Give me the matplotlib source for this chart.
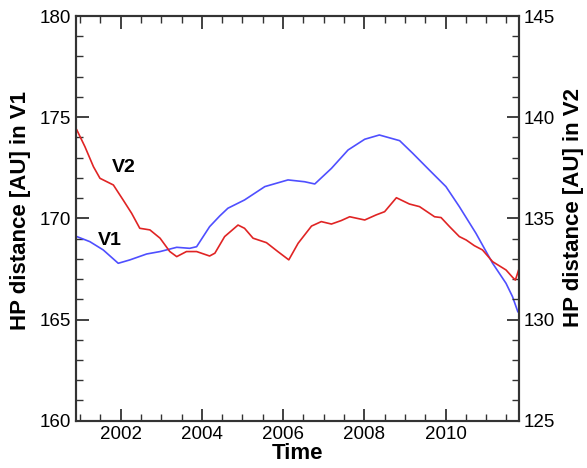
import numpy as np
import matplotlib.pyplot as plt
from matplotlib.ticker import MultipleLocator

plt.rcParams['font.family'] = ['Liberation Sans', 'DejaVu Sans']

# V1 heliopause distance (left axis)
v1_t = [2000.92, 2001.24, 2001.57, 2001.94, 2002.23, 2002.64, 2002.97, 2003.38, 2003.70, 2003.87,
        2004.19, 2004.44, 2004.64, 2005.05, 2005.55, 2006.12, 2006.53, 2006.78, 2007.19, 2007.60,
        2008.01, 2008.37, 2008.87, 2009.19, 2009.60, 2010.01, 2010.34, 2010.75, 2011.16, 2011.49,
        2011.65, 2011.78]
v1_d = [169.1, 168.85, 168.44, 167.78, 167.95, 168.24, 168.36, 168.57, 168.52, 168.6,
        169.59, 170.12, 170.5, 170.91, 171.57, 171.9, 171.81, 171.7, 172.47, 173.38,
        173.91, 174.12, 173.84, 173.22, 172.39, 171.57, 170.58, 169.26, 167.78, 166.79,
        166.13, 165.39]

# V2 heliopause distance (right axis)
v2_t = [2000.92, 2001.12, 2001.33, 2001.49, 2001.82, 2002.06, 2002.27, 2002.47, 2002.72, 2002.97,
        2003.21, 2003.38, 2003.62, 2003.87, 2004.19, 2004.32, 2004.56, 2004.89, 2005.05, 2005.26,
        2005.59, 2005.87, 2006.14, 2006.37, 2006.70, 2006.94, 2007.19, 2007.43, 2007.64, 2008.01,
        2008.29, 2008.50, 2008.79, 2009.11, 2009.36, 2009.73, 2009.89, 2010.10, 2010.34, 2010.51,
        2010.71, 2010.91, 2011.16, 2011.49, 2011.65, 2011.72, 2011.80]
v2_d = [139.37, 138.54, 137.55, 136.98, 136.65, 135.91, 135.25, 134.51, 134.43, 134.02,
        133.36, 133.11, 133.36, 133.36, 133.14, 133.28, 134.1, 134.67, 134.51, 134.02,
        133.8, 133.36, 132.95, 133.77, 134.62, 134.84, 134.72, 134.89, 135.08, 134.92,
        135.17, 135.33, 136.02, 135.71, 135.58, 135.08, 135.04, 134.59, 134.1, 133.93,
        133.65, 133.44, 132.86, 132.45, 132.09, 131.95, 132.45]

fig = plt.figure(figsize=(5.87, 4.68), dpi=100)
ax = fig.add_axes([0.1295, 0.101, 0.754, 0.8648])
ax2 = ax.twinx()

ax.plot(v1_t, v1_d, c='#4f4fff', lw=1.2)
ax2.plot(v2_t, v2_d, c='#e02424', lw=1.2)

ax.set_xlim(2000.9, 2011.8)
ax.set_ylim(160, 180)
ax2.set_ylim(125, 145)

ax.xaxis.set_major_locator(MultipleLocator(2))
ax.xaxis.set_minor_locator(MultipleLocator(0.5))
ax.yaxis.set_major_locator(MultipleLocator(5))
ax.yaxis.set_minor_locator(MultipleLocator(1))
ax2.yaxis.set_major_locator(MultipleLocator(5))
ax2.yaxis.set_minor_locator(MultipleLocator(1))

ax.tick_params(which='both', direction='in', top=True, right=False, labelsize=13.5, color='#333333')
ax.tick_params(which='major', length=9, width=1.3)
ax.tick_params(which='minor', length=5, width=1)
ax2.tick_params(which='both', direction='in', labelsize=13.5, color='#333333')
ax2.tick_params(which='major', length=9, width=1.3)
ax2.tick_params(which='minor', length=5, width=1)

for a in (ax, ax2):
    for s in a.spines.values():
        s.set_linewidth(1.5)
        s.set_color('#333333')

ax.set_xlabel('Time', fontsize=16, fontweight='bold', labelpad=0)
ax.set_ylabel('HP distance [AU] in V1', fontsize=16, fontweight='bold')
ax2.set_ylabel('HP distance [AU] in V2', fontsize=16, fontweight='bold', rotation=90)
ax.yaxis.set_label_coords(-0.102, 0.52)
ax2.yaxis.set_label_coords(1.10, 0.527)

ax.text(2002.07, 172.5, 'V2', fontsize=14, fontweight='bold', ha='center', va='center')
ax.text(2001.74, 168.93, 'V1', fontsize=14, fontweight='bold', ha='center', va='center')

fig.savefig('out.png', dpi=100)
